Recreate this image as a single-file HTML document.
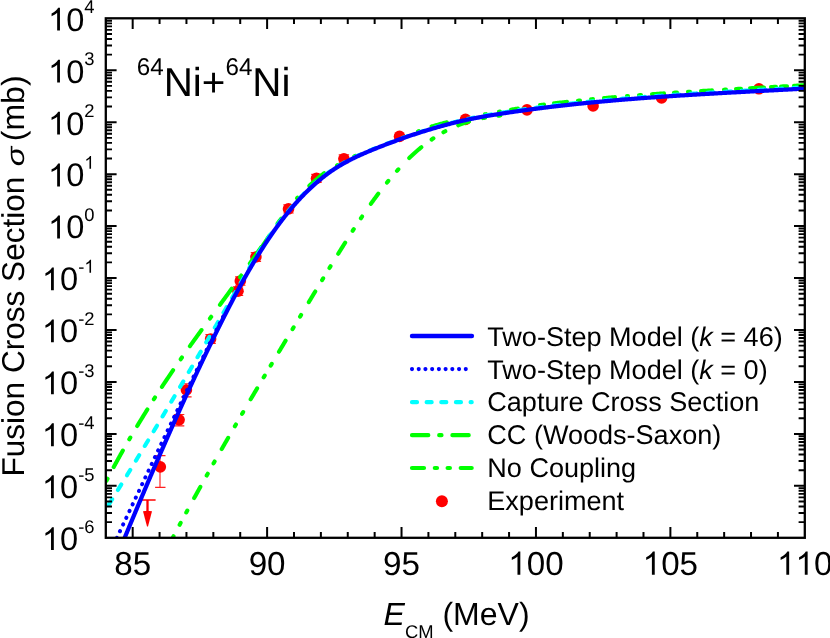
<!DOCTYPE html>
<html lang="en">
<head>
<meta charset="utf-8">
<title>64Ni+64Ni fusion cross section</title>
<style>
html,body{margin:0;padding:0;background:#ffffff;}
body{width:830px;height:638px;overflow:hidden;font-family:"Liberation Sans", sans-serif;}
svg{will-change:transform;}
svg text{font-family:"Liberation Sans", sans-serif;text-rendering:geometricPrecision;}
</style>
</head>
<body>
<svg width="830" height="638" viewBox="0 0 830 638" style="display:block">
<rect x="0" y="0" width="830" height="638" fill="#ffffff"/>
<defs><clipPath id="plot"><rect x="105.8" y="18.3" width="699.00" height="519.50"/></clipPath></defs>
<g clip-path="url(#plot)" fill="none" stroke-linecap="round" stroke-linejoin="round">
<g stroke="#ff2020" stroke-width="1.15" stroke-linecap="butt">
<path d="M160.0,455.6 V487.3 M155.1,455.6 h10.4 M155.1,487.3 h10.4"/>
<path d="M179.0,414.5 V425.8 M173.9,414.5 h10.4 M173.9,425.8 h10.4"/>
<path d="M186.0,383.7 V396.9 M181.2,383.7 h10.4 M181.2,396.9 h10.4"/>
<path d="M211.0,334.6 V343.4 M205.4,334.6 h10.4 M205.4,343.4 h10.4"/>
<path d="M238.0,286.9 V295.5 M232.8,286.9 h10.4 M232.8,295.5 h10.4"/>
<path d="M240.0,276.8 V285.2 M235.1,276.8 h10.4 M235.1,285.2 h10.4"/>
<path d="M256.0,252.6 V261.4 M250.7,252.6 h10.4 M250.7,261.4 h10.4"/>
<path d="M288.0,204.8 V213.0 M283.3,204.8 h10.4 M283.3,213.0 h10.4"/>
<path d="M316.0,174.4 V182.4 M311.3,174.4 h10.4 M311.3,182.4 h10.4"/>
<path d="M344.0,154.9 V162.7 M338.7,154.9 h10.4 M338.7,162.7 h10.4"/>
</g>
<g fill="#ff0000" stroke="none">
<circle cx="160.3" cy="466.9" r="5.8"/>
<circle cx="179.1" cy="419.8" r="5.8"/>
<circle cx="186.4" cy="390.0" r="5.8"/>
<circle cx="210.6" cy="339.0" r="5.8"/>
<circle cx="238.0" cy="291.2" r="5.8"/>
<circle cx="240.3" cy="281.0" r="5.8"/>
<circle cx="255.9" cy="257.0" r="5.8"/>
<circle cx="288.5" cy="208.9" r="5.8"/>
<circle cx="316.5" cy="178.4" r="5.8"/>
<circle cx="343.9" cy="158.8" r="5.8"/>
<circle cx="399.5" cy="136.4" r="5.8"/>
<circle cx="465.5" cy="119.4" r="5.8"/>
<circle cx="527.0" cy="109.9" r="5.8"/>
<circle cx="593.1" cy="106.0" r="5.8"/>
<circle cx="661.6" cy="98.0" r="5.8"/>
<circle cx="758.9" cy="88.8" r="5.8"/>
<path d="M139.4,499.2 h16.2 v1.5 h-16.2 z"/>
<path d="M146.35,500.0 h2.3 V513.5 h-2.3 z"/>
<path d="M143.0,511.3 q4.5,-1.2 9,0 L148.0,526.5 h-1 z"/>
</g>
<path d="M167.63,547.49 L167.92,546.91 L168.28,546.24 L168.63,545.57 L168.98,544.90 L169.33,544.23 L169.68,543.56 L170.03,542.89 L170.39,542.22 L170.74,541.55 L171.09,540.88 L171.44,540.21 L171.80,539.54 L172.15,538.87 L172.50,538.21 L172.85,537.54 L173.21,536.87 L173.54,536.25 M179.66,524.76 L179.95,524.21 L180.31,523.55 L180.65,522.91 M186.29,512.46 L186.39,512.28 L186.75,511.62 L187.11,510.95 L187.30,510.61 M194.20,497.99 L194.32,497.77 L194.69,497.11 L195.05,496.45 L195.41,495.79 L195.77,495.14 L196.14,494.48 L196.50,493.82 L196.86,493.17 L197.23,492.51 L197.59,491.85 L197.95,491.20 L198.32,490.54 L198.68,489.88 L199.04,489.23 L199.41,488.57 L199.77,487.92 L200.14,487.26 L200.35,486.87 M206.70,475.52 L206.72,475.48 L207.08,474.83 L207.45,474.18 L207.73,473.69 M213.57,463.34 L213.71,463.09 L214.08,462.44 L214.45,461.79 L214.61,461.51 M221.74,449.01 L221.86,448.80 L222.23,448.15 L222.60,447.50 L222.97,446.85 L223.34,446.21 L223.72,445.56 L224.09,444.91 L224.46,444.26 L224.83,443.61 L225.21,442.97 L225.58,442.32 L225.95,441.67 L226.33,441.02 L226.70,440.38 L227.07,439.73 L227.45,439.08 L227.82,438.43 L228.17,437.83 M234.87,426.27 L234.93,426.15 L235.31,425.51 L235.69,424.86 L235.92,424.46 M242.12,413.85 L242.46,413.25 L242.84,412.61 L243.18,412.03 M250.67,399.29 L250.79,399.08 L251.17,398.44 L251.55,397.80 L251.93,397.15 L252.31,396.51 L252.69,395.87 L253.07,395.22 L253.45,394.58 L253.83,393.94 L254.21,393.29 L254.59,392.65 L254.97,392.01 L255.35,391.36 L255.73,390.72 L256.11,390.08 L256.49,389.43 L256.88,388.79 L257.13,388.36 M263.64,377.39 L263.75,377.22 L264.13,376.58 L264.51,375.94 L264.72,375.59 M270.65,365.64 L271.02,365.01 L271.41,364.37 L271.73,363.84 M278.97,351.73 L279.10,351.52 L279.49,350.87 L279.87,350.23 L280.26,349.59 L280.64,348.95 L281.03,348.30 L281.41,347.66 L281.80,347.02 L282.18,346.37 L282.57,345.73 L282.96,345.09 L283.34,344.45 L283.73,343.80 L284.11,343.16 L284.50,342.52 L284.89,341.87 L285.27,341.23 L285.61,340.67 M292.55,329.13 L292.62,329.00 L293.01,328.36 L293.40,327.72 L293.63,327.33 M300.03,316.70 L300.38,316.12 L300.77,315.47 L301.11,314.90 M308.80,302.14 L308.93,301.91 L309.32,301.27 L309.71,300.62 L310.10,299.98 L310.49,299.33 L310.88,298.68 L311.27,298.04 L311.66,297.39 L312.05,296.74 L312.44,296.10 L312.83,295.45 L313.22,294.80 L313.61,294.16 L314.00,293.51 L314.39,292.86 L314.78,292.21 L315.17,291.57 L315.25,291.43 M322.08,280.13 L322.20,279.93 L322.59,279.28 L322.98,278.64 L323.17,278.34 M329.46,268.00 L329.66,267.67 L330.05,267.03 L330.44,266.39 L330.55,266.21 M338.21,253.77 L338.34,253.56 L338.74,252.92 L339.14,252.28 L339.53,251.64 L339.93,251.00 L340.33,250.37 L340.72,249.73 L341.12,249.09 L341.52,248.45 L341.92,247.82 L342.31,247.18 L342.71,246.54 L343.11,245.91 L343.51,245.27 L343.91,244.64 L344.30,244.00 L344.70,243.37 L345.10,242.73 L345.15,242.66 M352.64,230.87 L352.72,230.75 L353.12,230.12 L353.53,229.49 L353.78,229.11 M360.91,218.25 L361.30,217.67 L361.72,217.06 L362.08,216.51 M370.88,203.80 L371.02,203.61 L371.45,203.01 L371.89,202.40 L372.32,201.80 L372.76,201.20 L373.19,200.59 L373.63,199.99 L374.07,199.39 L374.51,198.79 L374.95,198.19 L375.39,197.59 L375.83,196.99 L376.27,196.40 L376.72,195.80 L377.16,195.20 L377.61,194.61 L378.06,194.01 L378.27,193.72 M387.01,182.55 L387.25,182.25 L387.73,181.67 L388.20,181.09 L388.34,180.92 M396.95,170.86 L396.98,170.83 L397.48,170.27 L397.99,169.71 L398.36,169.30 M409.27,158.01 L409.45,157.84 L409.99,157.32 L410.53,156.80 L411.07,156.29 L411.62,155.78 L412.16,155.27 L412.71,154.76 L413.26,154.25 L413.81,153.75 L414.36,153.25 L414.92,152.75 L415.48,152.25 L416.03,151.76 L416.59,151.27 L417.16,150.78 L417.72,150.29 L418.29,149.80 L418.85,149.32 L419.42,148.84 L419.99,148.37 L420.56,147.89 L421.14,147.42 L421.36,147.24 M431.67,139.50 L431.79,139.41 L432.40,138.99 L433.02,138.58 L433.41,138.32 M443.44,132.23 L443.72,132.07 L444.37,131.72 L445.02,131.37 L445.29,131.23 M458.25,125.31 L458.47,125.22 L459.17,124.95 L459.86,124.69 L460.56,124.42 L461.26,124.17 L461.97,123.91 L462.67,123.66 L463.38,123.41 L464.09,123.17 L464.80,122.93 L465.52,122.69 L466.23,122.45 L466.95,122.22 L467.67,122.00 L468.40,121.77 L469.02,121.59 M482.94,118.10 L483.33,118.02 L484.10,117.87 L484.88,117.72 L485.00,117.70 M498.30,115.69 L498.36,115.68 L499.18,115.59 L499.99,115.50 L500.38,115.46" stroke="#00ff00" stroke-width="4.1"/>
<path d="M106.56,480.58 L106.71,480.28 L107.06,479.61 L107.41,478.94 L107.53,478.71 M113.70,467.10 L113.81,466.91 L114.16,466.25 L114.52,465.59 L114.88,464.92 L115.25,464.26 L115.61,463.60 L115.97,462.94 L116.33,462.28 L116.69,461.62 L117.06,460.96 L117.42,460.30 L117.78,459.64 L118.15,458.98 L118.51,458.32 L118.88,457.66 L119.24,457.00 L119.61,456.34 L119.98,455.69 L120.34,455.03 L120.71,454.37 L121.08,453.72 L121.44,453.06 L121.81,452.41 L122.18,451.75 L122.55,451.10 L122.85,450.57 M129.28,439.36 L129.65,438.74 L130.03,438.09 L130.34,437.55 M137.19,426.03 L137.29,425.86 L137.68,425.22 L138.06,424.58 L138.45,423.94 L138.84,423.30 L139.22,422.66 L139.61,422.03 L140.00,421.39 L140.39,420.75 L140.78,420.11 L141.17,419.48 L141.56,418.84 L141.95,418.20 L142.34,417.57 L142.73,416.93 L143.13,416.29 L143.52,415.66 L143.91,415.02 L144.31,414.39 L144.70,413.75 L145.09,413.12 L145.49,412.49 L145.88,411.85 L146.28,411.22 L146.67,410.59 L147.07,409.95 L147.35,409.50 M153.87,399.23 L154.27,398.61 L154.67,397.98 L155.01,397.46 M161.91,386.89 L162.01,386.73 L162.43,386.11 L162.84,385.48 L163.25,384.86 L163.66,384.24 L164.08,383.62 L164.49,382.99 L164.90,382.37 L165.32,381.75 L165.73,381.13 L166.15,380.51 L166.56,379.89 L166.98,379.27 L167.39,378.65 L167.81,378.03 L168.23,377.41 L168.65,376.79 L169.06,376.17 L169.48,375.55 L169.90,374.93 L170.32,374.31 L170.74,373.69 L171.16,373.07 L171.58,372.46 L172.00,371.84 L172.42,371.22 L172.84,370.60 L173.11,370.20 M180.69,359.22 L180.92,358.90 L181.35,358.28 L181.78,357.67 L181.90,357.50 M189.89,346.19 L190.01,346.03 L190.44,345.42 L190.88,344.80 L191.31,344.19 L191.75,343.58 L192.19,342.97 L192.63,342.36 L193.06,341.75 L193.50,341.14 L193.94,340.53 L194.38,339.92 L194.82,339.31 L195.26,338.70 L195.70,338.09 L196.13,337.48 L196.57,336.87 L197.01,336.26 L197.45,335.65 L197.89,335.04 L198.33,334.43 L198.78,333.82 L199.22,333.21 L199.66,332.60 L200.10,331.99 L200.54,331.38 L200.98,330.78 L201.42,330.17 L201.51,330.04 M209.93,318.49 L210.29,318.01 L210.73,317.40 L211.17,316.79 M219.94,304.82 L220.06,304.65 L220.51,304.04 L220.95,303.44 L221.40,302.83 L221.84,302.22 L222.28,301.62 L222.73,301.01 L223.17,300.41 L223.62,299.80 L224.06,299.19 L224.50,298.59 L224.95,297.98 L225.39,297.37 L225.84,296.77 L226.28,296.16 L226.72,295.55 L227.17,294.95 L227.61,294.34 L228.05,293.73 L228.49,293.13 L228.94,292.52 L229.38,291.91 L229.82,291.31 L230.26,290.70 L230.71,290.09 L231.15,289.49 L231.59,288.88 L231.68,288.75 M240.03,277.23 L240.39,276.73 L240.82,276.13 L241.26,275.53 M249.83,263.50 L249.94,263.35 L250.37,262.74 L250.80,262.13 L251.23,261.52 L251.66,260.91 L252.09,260.30 L252.52,259.69 L252.95,259.08 L253.38,258.47 L253.80,257.86 L254.23,257.25 L254.66,256.64 L255.08,256.03 L255.51,255.42 L255.94,254.81 L256.36,254.20 L256.79,253.59 L257.21,252.98 L257.63,252.37 L258.06,251.76 L258.48,251.14 L258.90,250.53 L259.32,249.92 L259.74,249.31 L260.17,248.70 L260.59,248.09 L261.01,247.47 L261.21,247.18" stroke="#00ff00" stroke-width="4.1"/>
<path d="M261.90,247.04 L262.32,246.40 L262.73,245.76 L263.14,245.12 L263.55,244.48 L263.97,243.85 L264.38,243.21 L264.80,242.57 L265.22,241.94 L265.64,241.30 L266.06,240.67 L266.48,240.03 L266.90,239.40 L267.33,238.76 L267.75,238.13 L268.18,237.50 L268.60,236.87 L269.03,236.23 L269.46,235.60 M277.52,223.53 L277.98,222.92 L278.43,222.31 L278.89,221.69 L279.35,221.08 L279.81,220.47 L280.27,219.86 L280.73,219.25 L281.19,218.65 M297.03,198.13 L297.54,197.57 M309.27,185.76 L309.82,185.25 L310.37,184.74 L310.93,184.23 L311.49,183.73 L312.05,183.22 L312.61,182.72 L313.17,182.22 L313.73,181.72 L314.30,181.23 L314.86,180.73 L315.43,180.24 L316.00,179.75 L316.58,179.27 L317.15,178.79 L317.73,178.30 L318.30,177.83 L318.88,177.35 L319.46,176.88 L320.05,176.41 L320.63,175.94 L321.22,175.47 L321.81,175.01 L322.40,174.55 L322.99,174.09 L323.58,173.63 L324.18,173.18 M336.96,165.47 L337.59,165.08 M354.04,156.49 L354.71,156.17 L355.39,155.85 M417.98,131.44 L418.70,131.21 M431.53,126.53 L432.25,126.32 L432.98,126.10 L433.71,125.89 L434.43,125.68 L435.16,125.47 L435.89,125.26 L436.61,125.06 L437.34,124.85 L438.07,124.64 L438.79,124.44 L439.52,124.23 L440.25,124.03 L440.98,123.83 L441.71,123.63 L442.43,123.43 L443.16,123.23 L443.89,123.03 L444.62,122.83 L445.35,122.63 L446.08,122.44 L446.81,122.24" stroke="#00ff00" stroke-width="4.1"/>
<path d="M485.00,114.35 L486.00,114.16 M499.00,111.73 L500.00,111.55 M511.00,109.66 L512.00,109.50 L513.00,109.33 L514.00,109.16 L515.00,109.00 L516.00,108.83 L517.00,108.67 L518.00,108.51 M540.00,105.11 L541.00,104.98 L542.00,104.85 L543.00,104.72 L544.00,104.60 M554.00,103.37 L555.00,103.25 L556.00,103.13 L557.00,103.01 L558.00,102.90 L559.00,102.78 L560.00,102.66 L561.00,102.55 L562.00,102.43 L563.00,102.32 L564.00,102.20 L565.00,102.09 L566.00,101.98 L567.00,101.87 M578.00,100.67 L579.00,100.56 L580.00,100.46 M591.00,99.34 L592.00,99.24 L593.00,99.14 M604.00,98.10 L605.00,98.01 L606.00,97.92 L607.00,97.83 L608.00,97.74 L609.00,97.66 L610.00,97.57 L611.00,97.48 L612.00,97.39 L613.00,97.30 L614.00,97.22 L615.00,97.13 M627.00,96.13 L628.00,96.05 M639.00,95.19 L640.00,95.11 L641.00,95.04 M652.00,94.22 L653.00,94.15 L654.00,94.08 L655.00,94.01 L656.00,93.94 L657.00,93.87 L658.00,93.80 L659.00,93.73 L660.00,93.66 L661.00,93.59 L662.00,93.52 L663.00,93.45 L664.00,93.38 M674.00,92.72 L675.00,92.65 L676.00,92.59 L677.00,92.52 M688.00,91.83 L689.00,91.76 L690.00,91.70 M701.00,91.04 L702.00,90.98 L703.00,90.92 L704.00,90.86 L705.00,90.80 L706.00,90.75 L707.00,90.69 L708.00,90.63 L709.00,90.57 L710.00,90.51 L711.00,90.46 L712.00,90.40 M724.00,89.71 L725.00,89.65 L726.00,89.60 M736.00,89.02 L737.00,88.97 L738.00,88.91 L739.00,88.85 L740.00,88.80 L741.00,88.74 M750.00,88.24 L751.00,88.18 L752.00,88.13 L753.00,88.07 L754.00,88.02 L755.00,87.96 L756.00,87.91 L757.00,87.85 L758.00,87.80 L759.00,87.74 L760.00,87.68 L761.00,87.63 L762.00,87.57 L763.00,87.52 L764.00,87.46 M771.00,87.08 L772.00,87.02 L773.00,86.97 L774.00,86.91 L775.00,86.86 L776.00,86.80 M781.00,86.53 L782.00,86.47 L783.00,86.42 L784.00,86.36 L785.00,86.30 L786.00,86.25 L787.00,86.19 M794.00,85.80 L795.00,85.75 L796.00,85.69 L797.00,85.63 L798.00,85.58 L799.00,85.52 L800.00,85.47 L801.00,85.41 L802.00,85.35 L803.00,85.30 L804.00,85.24 L805.00,85.18 L806.00,85.13 L807.00,85.07 L808.00,85.02 L809.00,84.96 L810.00,84.91" stroke="#00ff00" stroke-width="4.1"/>
<path d="M100.80,517.38 L101.19,516.74 L101.59,516.11 L101.99,515.47 L102.39,514.84 L102.79,514.20 L103.08,513.74 M108.81,504.58 L109.16,504.03 L109.56,503.39 L109.95,502.76 L110.35,502.12 L110.75,501.48 L111.14,500.85 L111.54,500.21 L111.94,499.57 L112.20,499.15 M117.89,489.98 L118.26,489.37 L118.66,488.74 L119.05,488.10 L119.45,487.46 L119.84,486.82 L120.24,486.18 L120.63,485.55 L121.02,484.91 L121.26,484.53 M126.91,475.33 L126.92,475.33 L127.31,474.69 L127.70,474.05 L128.10,473.41 L128.49,472.77 L128.88,472.13 L129.27,471.49 L129.66,470.85 L130.05,470.21 L130.26,469.88 M135.89,460.66 L135.92,460.61 L136.31,459.97 L136.70,459.33 L137.09,458.69 L137.47,458.05 L137.86,457.41 L138.25,456.76 L138.64,456.12 L139.03,455.48 L139.21,455.19 M144.81,445.95 L144.86,445.86 L145.25,445.22 L145.64,444.58 L146.03,443.94 L146.41,443.30 L146.80,442.65 L147.19,442.01 L147.58,441.37 L147.96,440.73 L148.12,440.47 M153.68,431.22 L153.76,431.09 L154.15,430.45 L154.54,429.80 L154.92,429.16 L155.31,428.52 L155.69,427.87 L156.08,427.23 L156.46,426.59 L156.85,425.94 L156.98,425.73 M162.52,416.46 L162.62,416.29 L163.01,415.65 L163.39,415.00 L163.77,414.36 L164.16,413.71 L164.54,413.07 L164.93,412.43 L165.31,411.78 L165.69,411.14 L165.80,410.97 M171.32,401.68 L171.44,401.47 L171.82,400.82 L172.21,400.18 L172.59,399.53 L172.97,398.89 L173.35,398.24 L173.74,397.60 L174.12,396.95 L174.50,396.31 L174.58,396.18 M180.08,386.88 L180.23,386.63 L180.61,385.98 L180.99,385.33 L181.37,384.69 L181.75,384.04 L182.13,383.40 L182.51,382.75 L182.89,382.10 L183.27,381.46 L183.33,381.37 M188.81,372.06 L188.98,371.76 L189.36,371.12 L189.74,370.47 L190.12,369.82 L190.50,369.18 L190.88,368.53 L191.26,367.88 L191.64,367.24 L192.02,366.59 L192.05,366.54 M197.51,357.22 L197.70,356.89 L198.08,356.24 L198.46,355.59 L198.84,354.94 L199.22,354.30 L199.60,353.65 L199.97,353.00 L200.35,352.36 L200.73,351.71 L200.74,351.70 M206.18,342.37 L206.40,341.99 L206.78,341.35 L207.16,340.70 L207.54,340.05 L207.91,339.40 L208.29,338.75 L208.67,338.11 L209.05,337.46 L209.40,336.84 M214.84,327.51 L215.08,327.09 L215.46,326.44 L215.84,325.79 L216.21,325.14 L216.59,324.49 L216.97,323.85 L217.34,323.20 L217.72,322.55 L218.05,321.97 M223.47,312.63 L223.74,312.17 L224.12,311.52 L224.49,310.87 L224.87,310.22 L225.25,309.58 L225.62,308.93 L226.00,308.28 L226.38,307.63 L226.68,307.10 M232.10,297.75 L232.39,297.25 L232.76,296.60 L233.14,295.95 L233.52,295.30 L233.89,294.65 L234.27,294.00 L234.64,293.35 L235.02,292.70 L235.30,292.21 M240.71,282.86 L241.03,282.31 L241.40,281.67 L241.78,281.02 L242.15,280.37 L242.53,279.72 L242.90,279.07 L243.28,278.42 L243.65,277.77 L243.91,277.32 M249.27,267.94 L250.14,266.40 L250.52,265.76 L250.91,265.11 L251.30,264.47 L251.68,263.82 L252.07,263.18 L252.46,262.53 L252.52,262.43 M258.20,253.24 L258.41,252.90 L258.82,252.26 L259.22,251.62 L259.63,250.98 L260.04,250.35 L260.45,249.71 L260.86,249.07 L261.27,248.43 L261.64,247.85 M267.60,238.84 L267.98,238.29 L268.41,237.66 L268.84,237.03 L269.27,236.40 L269.71,235.77 L270.14,235.15 L270.57,234.52 L271.01,233.89 L271.23,233.57 M277.55,224.81 L277.70,224.61 L278.15,224.00 L278.61,223.39 L279.07,222.78 L279.53,222.17 L279.99,221.56 L280.45,220.96 L280.91,220.35 L281.38,219.75 L281.41,219.71 M288.15,211.27 L288.50,210.84 L288.99,210.26 L289.48,209.68 L289.97,209.10 L290.46,208.52 L290.95,207.94 L291.44,207.36 L291.93,206.79 L292.28,206.39 M299.52,198.37 L300.04,197.83 L300.55,197.28 L301.07,196.73 L301.59,196.19 L302.11,195.65 L302.63,195.11 L303.15,194.57 L303.68,194.03 L303.95,193.75 M311.72,186.25 L311.74,186.23 L312.29,185.72 L312.84,185.22 L313.40,184.72 L313.95,184.23 L314.51,183.73 L315.07,183.24 L315.63,182.75 L316.19,182.27 L316.50,182.00 M324.89,175.20 L325.41,174.81 L326.00,174.36 L326.60,173.92 L327.19,173.48 L327.79,173.05 L328.38,172.61 L328.98,172.18 L329.59,171.76 L330.06,171.42 M339.10,165.52 L339.46,165.30 L340.09,164.92 L340.73,164.55 L341.36,164.18 L342.00,163.81 L342.64,163.44 L343.28,163.08 L343.93,162.72 L344.57,162.36 L344.64,162.32 M354.24,157.38 L354.43,157.29 L355.10,156.97 L355.77,156.65 L356.44,156.34 L357.11,156.02 L357.79,155.71 L358.46,155.40 L359.14,155.09 L359.81,154.79 L360.05,154.68 M369.97,150.42 L370.10,150.36 L370.79,150.08 L371.49,149.80 L372.18,149.51 L372.88,149.23 L373.57,148.95 L374.27,148.67 L374.97,148.39 L375.67,148.11 L375.90,148.02 M385.97,144.10 L386.21,144.01 L386.92,143.74 L387.63,143.47 L388.33,143.20 L389.04,142.93 L389.75,142.67 L390.46,142.40 L391.17,142.14 L391.88,141.87 L391.96,141.84 M402.11,138.16 L402.58,137.99 L403.30,137.74 L404.01,137.49 L404.73,137.24 L405.44,136.99 L406.16,136.74 L406.88,136.50 L407.60,136.25 L408.15,136.06 M418.41,132.67 L419.10,132.45 L419.82,132.22 L420.54,131.98 L421.26,131.75 L421.98,131.52 L422.70,131.29 L423.42,131.06 L424.14,130.83 L424.50,130.71 M434.82,127.54 L434.96,127.50 L435.68,127.29 L436.40,127.07 L437.13,126.86 L437.85,126.65 L438.58,126.44 L439.30,126.23 L440.02,126.02 L440.75,125.82 L440.97,125.75 M451.38,122.89 L451.63,122.82 L452.36,122.63 L453.09,122.44 L453.82,122.25 L454.54,122.06 L455.27,121.88 L456.00,121.69 L456.73,121.51 L457.46,121.33 L457.58,121.30 M468.10,118.87 L468.41,118.80 L469.14,118.65 L469.87,118.49 L470.60,118.34 L471.33,118.18 L472.07,118.03 L472.80,117.88 L473.53,117.73 L474.26,117.58 L474.37,117.56 M484.98,115.55 L485.26,115.50 L485.99,115.37 L486.73,115.23 L487.46,115.10 L488.20,114.97 L488.93,114.85 L489.67,114.72 L490.40,114.59 L491.14,114.46 L491.28,114.44 M501.94,112.67 L502.17,112.63 L502.91,112.51 L503.65,112.39 L504.38,112.27 L505.12,112.16 L505.86,112.04 L506.59,111.92 L507.33,111.81 L508.07,111.69 L508.26,111.66 M518.93,110.03 L519.14,110.00 L519.88,109.89 L520.62,109.79 L521.36,109.68 L522.10,109.58 L522.84,109.48 L523.58,109.37 L524.33,109.27 L525.07,109.17 L525.27,109.14 M535.98,107.70 L536.18,107.68 L536.93,107.58 L537.67,107.48 L538.41,107.39 L539.15,107.29 L539.90,107.20 L540.64,107.10 L541.38,107.01 L542.12,106.92 L542.32,106.89 M553.04,105.58 L553.27,105.55 L554.02,105.46 L554.76,105.37 L555.51,105.29 L556.25,105.20 L556.99,105.11 L557.74,105.02 L558.48,104.94 L559.23,104.85 L559.40,104.83 M570.13,103.63 L570.40,103.60 L571.15,103.52 L571.89,103.44 L572.64,103.36 L573.39,103.28 L574.13,103.20 L574.88,103.12 L575.62,103.04 L576.37,102.96 L576.50,102.95 M587.24,101.84 L587.57,101.81 L588.32,101.74 L589.06,101.66 L589.81,101.59 L590.56,101.51 L591.30,101.44 L592.05,101.37 L592.80,101.30 L593.55,101.22 L593.61,101.22 M604.36,100.21 L604.77,100.17 L605.51,100.10 L606.26,100.04 L607.01,99.97 L607.76,99.90 L608.51,99.83 L609.26,99.77 L610.00,99.70 L610.74,99.63 M621.50,98.71 L621.99,98.67 L622.74,98.60 L623.49,98.54 L624.23,98.48 L624.98,98.42 L625.73,98.36 L626.48,98.29 L627.23,98.23 L627.87,98.18 M638.64,97.33 L639.23,97.28 L639.98,97.23 L640.73,97.17 L641.48,97.11 L642.23,97.05 L642.98,97.00 L643.73,96.94 L644.48,96.88 L645.02,96.84 M655.79,96.06 L656.48,96.01 L657.23,95.95 L657.98,95.90 L658.73,95.85 L659.48,95.79 L660.23,95.74 L660.98,95.69 L661.73,95.64 L662.18,95.61 M672.95,94.88 L672.99,94.87 L673.74,94.82 L674.49,94.77 L675.24,94.72 L676.00,94.68 L676.75,94.63 L677.50,94.58 L678.25,94.53 L679.00,94.48 L679.34,94.46 M690.12,93.77 L690.26,93.77 L691.01,93.72 L691.76,93.67 L692.51,93.63 L693.26,93.58 L694.01,93.53 L694.76,93.49 L695.51,93.44 L696.26,93.40 L696.51,93.38 M707.29,92.74 L707.52,92.72 L708.27,92.68 L709.02,92.64 L709.77,92.59 L710.52,92.55 L711.27,92.50 L712.02,92.46 L712.77,92.42 L713.52,92.37 L713.68,92.36 M724.46,91.75 L724.77,91.73 L725.52,91.69 L726.27,91.65 L727.02,91.61 L727.77,91.56 L728.52,91.52 L729.27,91.48 L730.02,91.44 L730.77,91.40 L730.85,91.39 M741.63,90.80 L742.01,90.78 L742.76,90.74 L743.51,90.70 L744.26,90.66 L745.00,90.62 L745.75,90.58 L746.50,90.54 L747.25,90.49 L748.00,90.45 L748.02,90.45 M758.81,89.87 L759.23,89.85 L759.97,89.81 L760.72,89.77 L761.47,89.73 L762.22,89.69 L762.97,89.65 L763.71,89.61 L764.46,89.57 L765.20,89.53 M775.98,88.95 L776.42,88.93 L777.17,88.89 L777.91,88.85 L778.66,88.81 L779.41,88.77 L780.15,88.73 L780.90,88.69 L781.65,88.65 L782.37,88.61 M793.16,88.03 L793.58,88.01 L794.32,87.97 L795.07,87.92 L795.82,87.88 L796.56,87.84 L797.31,87.80 L798.05,87.76 L798.80,87.72 L799.54,87.68 L799.55,87.68 M810.33,87.09 L810.70,87.07 L811.45,87.03 L812.19,86.99 L812.93,86.94 L813.68,86.90 L814.42,86.86" stroke="#00ffff" stroke-width="4.1"/>
<path d="M113.60,544.81 L113.60,544.81 L113.73,544.54 M116.76,538.08 L116.79,538.02 L116.89,537.81 M119.93,531.34 L119.98,531.23 L120.06,531.07 M123.09,524.61 L123.17,524.45 L123.22,524.34 M126.26,517.88 L126.36,517.66 L126.39,517.61 M129.43,511.15 L129.56,510.88 M132.60,504.42 L132.73,504.15 M135.77,497.69 L135.90,497.42 M138.95,490.96 L139.07,490.69 M142.12,484.23 L142.25,483.96 M145.30,477.50 L145.43,477.23 M148.48,470.78 L148.61,470.51 M151.67,464.06 L151.80,463.78 M154.86,457.33 L154.87,457.31 L154.99,457.06 M158.05,450.61 L158.09,450.53 L158.18,450.34 M161.25,443.89 L161.31,443.76 L161.38,443.62 M164.45,437.18 L164.54,436.99 L164.58,436.91 M167.65,430.46 L167.77,430.22 L167.78,430.19 M170.86,423.75 L170.99,423.48 M174.08,417.04 L174.21,416.77 M177.30,410.33 L177.43,410.06 M180.52,403.63 L180.65,403.36 M183.75,396.93 L183.88,396.66 M186.98,390.23 L187.12,389.96 M190.23,383.53 L190.36,383.26 M193.47,376.84 L193.60,376.57 M196.73,370.15 L196.75,370.10 L196.86,369.88 M199.99,363.46 L200.04,363.36 L200.12,363.19 M203.26,356.77 L203.33,356.62 L203.39,356.50 M206.53,350.09 L206.63,349.89 L206.66,349.82 M209.81,343.42 L209.94,343.16 L209.94,343.15 M213.10,336.74 L213.23,336.47 M216.40,330.07 L216.53,329.81 M219.70,323.41 L219.84,323.14 M223.02,316.75 L223.15,316.48" stroke="#0000ff" stroke-width="3.9"/>
<path d="M117.59,554.89 L117.88,554.20 L118.16,553.51 L118.44,552.83 L118.73,552.14 L119.01,551.45 L119.30,550.76 L119.58,550.07 L119.86,549.38 L120.15,548.69 L120.43,548.01 L120.72,547.32 L121.00,546.63 L121.29,545.94 L121.57,545.25 L121.86,544.56 L122.14,543.87 L122.42,543.18 L122.71,542.49 L123.00,541.80 L123.28,541.11 L123.57,540.42 L123.85,539.73 L124.14,539.04 L124.42,538.36 L124.71,537.67 L124.99,536.98 L125.28,536.29 L125.57,535.60 L125.85,534.91 L126.14,534.22 L126.42,533.53 L126.71,532.84 L127.00,532.15 L127.28,531.46 L127.57,530.77 L127.86,530.08 L128.14,529.39 L128.43,528.70 L128.72,528.01 L129.00,527.32 L129.29,526.63 L129.58,525.94 L129.87,525.25 L130.15,524.56 L130.44,523.87 L130.73,523.18 L131.02,522.49 L131.31,521.79 L131.59,521.10 L131.88,520.41 L132.17,519.72 L132.46,519.03 L132.75,518.34 L133.04,517.65 L133.32,516.96 L133.61,516.27 L133.90,515.58 L134.19,514.89 L134.48,514.20 L134.77,513.51 L135.06,512.82 L135.35,512.13 L135.64,511.44 L135.93,510.75 L136.22,510.06 L136.51,509.36 L136.80,508.67 L137.09,507.98 L137.38,507.29 L137.67,506.60 L137.96,505.91 L138.25,505.22 L138.54,504.53 L138.83,503.84 L139.12,503.15 L139.41,502.46 L139.70,501.77 L139.99,501.08 L140.29,500.39 L140.58,499.69 L140.87,499.00 L141.16,498.31 L141.45,497.62 L141.74,496.93 L142.04,496.24 L142.33,495.55 L142.62,494.86 L142.91,494.17 L143.20,493.48 L143.50,492.79 L143.79,492.10 L144.08,491.40 L144.38,490.71 L144.67,490.02 L144.96,489.33 L145.26,488.64 L145.55,487.95 L145.84,487.26 L146.14,486.57 L146.43,485.88 L146.72,485.19 L147.02,484.50 L147.31,483.81 L147.61,483.12 L147.90,482.43 L148.20,481.74 L148.49,481.04 L148.78,480.35 L149.08,479.66 L149.37,478.97 L149.67,478.28 L149.96,477.59 L150.26,476.90 L150.56,476.21 L150.85,475.52 L151.15,474.83 L151.44,474.14 L151.74,473.45 L152.04,472.76 L152.33,472.07 L152.63,471.38 L152.92,470.69 L153.22,470.00 L153.52,469.31 L153.82,468.62 L154.11,467.93 L154.41,467.24 L154.71,466.55 L155.00,465.86 L155.30,465.17 L155.60,464.48 L155.90,463.79 L156.20,463.10 L156.49,462.41 L156.79,461.72 L157.09,461.03 L157.39,460.34 L157.69,459.65 L157.99,458.96 L158.29,458.27 L158.58,457.58 L158.88,456.89 L159.18,456.20 L159.48,455.51 L159.78,454.82 L160.08,454.13 L160.38,453.44 L160.68,452.76 L160.98,452.07 L161.28,451.38 L161.58,450.69 L161.88,450.00 L162.18,449.31 L162.49,448.62 L162.79,447.93 L163.09,447.24 L163.39,446.55 L163.69,445.87 L163.99,445.18 L164.29,444.49 L164.60,443.80 L164.90,443.11 L165.20,442.42 L165.50,441.73 L165.81,441.05 L166.11,440.36 L166.41,439.67 L166.71,438.98 L167.02,438.29 L167.32,437.60 L167.62,436.92 L167.93,436.23 L168.23,435.54 L168.53,434.85 L168.84,434.17 L169.14,433.48 L169.45,432.79 L169.75,432.10 L170.06,431.42 L170.36,430.73 L170.67,430.04 L170.97,429.35 L171.28,428.67 L171.58,427.98 L171.89,427.29 L172.19,426.61 L172.50,425.92 L172.80,425.23 L173.11,424.55 L173.42,423.86 L173.72,423.17 L174.03,422.49 L174.34,421.80 L174.64,421.11 L174.95,420.43 L175.26,419.74 L175.56,419.05 L175.87,418.37 L176.18,417.68 L176.49,417.00 L176.80,416.31 L177.10,415.63 L177.41,414.94 L177.72,414.25 L178.03,413.57 L178.34,412.88 L178.65,412.20 L178.96,411.51 L179.27,410.83 L179.57,410.14 L179.88,409.46 L180.19,408.77 L180.50,408.09 L180.81,407.40 L181.12,406.72 L181.43,406.04 L181.75,405.35 L182.06,404.67 L182.37,403.98 L182.68,403.30 L182.99,402.61 L183.30,401.93 L183.61,401.25 L183.92,400.56 L184.24,399.88 L184.55,399.20 L184.86,398.51 L185.17,397.83 L185.49,397.15 L185.80,396.46 L186.11,395.78 L186.42,395.10 L186.74,394.42 L187.05,393.73 L187.36,393.05 L187.68,392.37 L187.99,391.69 L188.31,391.00 L188.62,390.32 L188.94,389.64 L189.25,388.96 L189.57,388.28 L189.88,387.60 L190.20,386.91 L190.51,386.23 L190.83,385.55 L191.14,384.87 L191.46,384.19 L191.77,383.51 L192.09,382.83 L192.41,382.15 L192.72,381.47 L193.04,380.79 L193.36,380.11 L193.67,379.43 L193.99,378.75 L194.31,378.07 L194.63,377.39 L194.94,376.71 L195.26,376.03 L195.58,375.35 L195.90,374.67 L196.22,373.99 L196.54,373.31 L196.86,372.63 L197.18,371.95 L197.49,371.28 L197.81,370.60 L198.13,369.92 L198.45,369.24 L198.77,368.56 L199.09,367.88 L199.41,367.21 L199.73,366.53 L200.06,365.85 L200.38,365.17 L200.70,364.50 L201.02,363.82 L201.34,363.14 L201.66,362.47 L201.98,361.79 L202.31,361.11 L202.63,360.44 L202.95,359.76 L203.27,359.09 L203.60,358.41 L203.92,357.73 L204.24,357.06 L204.57,356.38 L204.89,355.71 L205.21,355.03 L205.54,354.36 L205.86,353.68 L206.19,353.01 L206.51,352.33 L206.84,351.66 L207.16,350.98 L207.49,350.31 L207.81,349.64 L208.14,348.96 L208.46,348.29 L208.79,347.62 L209.12,346.94 L209.44,346.27 L209.77,345.60 L210.10,344.92 L210.42,344.25 L210.75,343.58 L211.08,342.91 L211.41,342.23 L211.73,341.56 L212.06,340.89 L212.39,340.22 L212.72,339.55 L213.05,338.87 L213.37,338.20 L213.70,337.53 L214.03,336.86 L214.36,336.19 L214.69,335.52 L215.02,334.85 L215.35,334.18 L215.68,333.51 L216.01,332.84 L216.34,332.17 L216.67,331.50 L217.01,330.83 L217.34,330.16 L217.67,329.49 L218.00,328.82 L218.33,328.16 L218.66,327.49 L219.00,326.82 L219.33,326.15 L219.66,325.48 L219.99,324.82 L220.33,324.15 L220.66,323.48 L220.99,322.81 L221.33,322.15 L221.66,321.48 L222.00,320.81 L222.33,320.15 L222.67,319.48 L223.00,318.82 L223.34,318.15 L223.67,317.48 L224.01,316.82 L224.35,316.15 L224.68,315.49 L225.02,314.82 L225.36,314.16 L225.70,313.49 L226.03,312.83 L226.37,312.17 L226.71,311.50 L227.05,310.84 L227.39,310.18 L227.73,309.51 L228.07,308.85 L228.41,308.19 L228.75,307.52 L229.10,306.86 L229.44,306.20 L229.78,305.54 L230.12,304.88 L230.47,304.21 L230.81,303.55 L231.16,302.89 L231.50,302.23 L231.85,301.57 L232.19,300.91 L232.54,300.25 L232.88,299.59 L233.23,298.93 L233.58,298.27 L233.93,297.61 L234.28,296.95 L234.63,296.29 L234.98,295.64 L235.33,294.98 L235.68,294.32 L236.03,293.66 L236.38,293.00 L236.73,292.35 L237.09,291.69 L237.44,291.03 L237.79,290.38 L238.15,289.72 L238.50,289.06 L238.86,288.41 L239.22,287.75 L239.58,287.10 L239.93,286.44 L240.29,285.79 L240.65,285.13 L241.01,284.48 L241.37,283.82 L241.73,283.17 L242.10,282.52 L242.46,281.86 L242.82,281.21 L243.19,280.56 L243.55,279.90 L243.92,279.25 L244.28,278.60 L244.65,277.95 L245.02,277.30 L245.38,276.65 L245.75,275.99 L246.12,275.34 L246.49,274.69 L246.86,274.04 L247.24,273.39 L247.61,272.74 L247.98,272.09 L248.36,271.44 L248.73,270.80 L249.11,270.15 L249.49,269.50 L249.86,268.85 L250.24,268.20 L250.62,267.56 L251.00,266.91 L251.38,266.26 L251.76,265.62 L252.15,264.97 L252.53,264.32 L252.92,263.68 L253.30,263.03 L253.69,262.39 L254.07,261.74 L254.46,261.10 L254.85,260.45 L255.24,259.81 L255.63,259.17 L256.02,258.52 L256.42,257.88 L256.81,257.24 L257.20,256.59 L257.60,255.95 L258.00,255.31 L258.39,254.67 L258.79,254.03 L259.19,253.39 L259.59,252.75 L259.99,252.11 L260.40,251.47 L260.80,250.83 L261.20,250.19 L261.61,249.55 L262.01,248.91 L262.42,248.27 L262.83,247.63 L263.24,246.99 L263.65,246.36 L264.06,245.72 L264.48,245.08 L264.89,244.45 L265.30,243.81 L265.72,243.18 L266.14,242.54 L266.56,241.91 L266.97,241.27 L267.39,240.64 L267.82,240.01 L268.24,239.38 L268.66,238.74 L269.09,238.11 L269.51,237.48 L269.94,236.85 L270.37,236.22 L270.80,235.60 L271.23,234.97 L271.66,234.34 L272.09,233.72 L272.53,233.09 L272.96,232.47 L273.40,231.84 L273.84,231.22 L274.28,230.60 L274.72,229.98 L275.16,229.35 L275.60,228.73 L276.04,228.12 L276.49,227.50 L276.93,226.88 L277.38,226.27 L277.83,225.65 L278.28,225.04 L278.73,224.42 L279.18,223.81 L279.64,223.20 L280.09,222.59 L280.55,221.98 L281.00,221.37 L281.46,220.77 L281.92,220.16 L282.38,219.56 L282.85,218.96 L283.31,218.35 L283.77,217.75 L284.24,217.15 L284.71,216.55 L285.18,215.96 L285.65,215.36 L286.12,214.77 L286.59,214.17 L287.07,213.58 L287.54,212.99 L288.02,212.40 L288.50,211.81 L288.98,211.23 L289.46,210.64 L289.94,210.06 L290.42,209.48 L290.91,208.90 L291.40,208.32 L291.88,207.74 L292.37,207.16 L292.87,206.59 L293.36,206.02 L293.85,205.45 L294.35,204.88 L294.84,204.31 L295.34,203.74 L295.84,203.18 L296.34,202.61 L296.84,202.05 L297.35,201.49 L297.85,200.93 L298.36,200.38 L298.87,199.82 L299.38,199.27 L299.89,198.72 L300.40,198.17 L300.92,197.62 L301.43,197.08 L301.95,196.53 L302.47,195.99 L302.99,195.45 L303.51,194.91 L304.03,194.38 L304.56,193.84 L305.08,193.31 L305.61,192.78 L306.14,192.25 L306.67,191.73 L307.20,191.20 L307.74,190.68 L308.27,190.16 L308.81,189.64 L309.35,189.13 L309.89,188.61 L310.43,188.10 L310.98,187.59 L311.52,187.09 L312.07,186.58 L312.62,186.08 L313.17,185.58 L313.72,185.08 L314.27,184.58 L314.83,184.09 L315.38,183.60 L315.94,183.11 L316.50,182.62 L317.06,182.14 L317.63,181.66 L318.19,181.18 L318.76,180.70 L319.33,180.23 L319.89,179.75 L320.47,179.28 L321.04,178.82 L321.61,178.35 L322.19,177.89 L322.77,177.43 L323.35,176.97 L323.93,176.52 L324.52,176.07 L325.10,175.62 L325.69,175.17 L326.28,174.73 L326.87,174.29 L327.46,173.85 L328.05,173.41 L328.65,172.98 L329.25,172.55 L329.85,172.12 L330.45,171.70 L331.05,171.28 L331.66,170.86 L332.26,170.44 L332.87,170.03 L333.48,169.62 L334.09,169.21 L334.71,168.80 L335.32,168.40 L335.94,168.00 L336.56,167.61 L337.18,167.22 L337.80,166.83 L338.43,166.44 L339.06,166.05 L339.68,165.67 L340.31,165.30 L340.95,164.92 L341.58,164.55 L342.22,164.18 L342.85,163.81 L343.49,163.45 L344.13,163.09 L344.78,162.73 L345.42,162.38 L346.07,162.02 L346.72,161.67 L347.37,161.33 L348.02,160.98 L348.67,160.64 L349.32,160.30 L349.98,159.96 L350.64,159.63 L351.29,159.29 L351.95,158.96 L352.62,158.63 L353.28,158.31 L353.94,157.98 L354.61,157.66 L355.27,157.34 L355.94,157.02 L356.61,156.70 L357.28,156.39 L357.96,156.08 L358.63,155.77 L359.30,155.46 L359.98,155.15 L360.66,154.84 L361.33,154.54 L362.01,154.24 L362.69,153.94 L363.38,153.64 L364.06,153.34 L364.74,153.04 L365.43,152.75 L366.11,152.45 L366.80,152.16 L367.49,151.87 L368.17,151.58 L368.86,151.29 L369.55,151.00 L370.25,150.72 L370.94,150.43 L371.63,150.15 L372.32,149.86 L373.02,149.58 L373.71,149.30 L374.41,149.02 L375.11,148.74 L375.80,148.46 L376.50,148.18 L377.20,147.90 L377.90,147.63 L378.60,147.35 L379.30,147.07 L380.00,146.80 L380.70,146.52 L381.41,146.25 L382.11,145.97 L382.81,145.70 L383.52,145.43 L384.22,145.15 L384.93,144.88 L385.63,144.61 L386.34,144.34 L387.04,144.07 L387.75,143.80 L388.46,143.53 L389.17,143.26 L389.87,142.99 L390.58,142.73 L391.29,142.46 L392.00,142.20 L392.71,141.93 L393.42,141.67 L394.13,141.40 L394.84,141.14 L395.56,140.88 L396.27,140.62 L396.98,140.36 L397.69,140.10 L398.41,139.84 L399.12,139.58 L399.83,139.32 L400.55,139.07 L401.26,138.81 L401.98,138.56 L402.69,138.30 L403.40,138.05 L404.12,137.80 L404.84,137.55 L405.55,137.30 L406.27,137.05 L406.98,136.80 L407.70,136.55 L408.42,136.31 L409.13,136.06 L409.85,135.82 L410.57,135.57 L411.29,135.33 L412.00,135.09 L412.72,134.85 L413.44,134.61 L414.16,134.37 L414.88,134.14 L415.60,133.90 L416.31,133.67 L417.03,133.43 L417.75,133.20 L418.47,132.97 L419.19,132.73 L419.91,132.50 L420.63,132.27 L421.35,132.05 L422.07,131.82 L422.79,131.59 L423.51,131.37 L424.23,131.14 L424.96,130.92 L425.68,130.70 L426.40,130.47 L427.12,130.25 L427.84,130.03 L428.56,129.82 L429.29,129.60 L430.01,129.38 L430.73,129.17 L431.45,128.95 L432.18,128.74 L432.90,128.52 L433.62,128.31 L434.35,128.10 L435.07,127.89 L435.80,127.68 L436.52,127.47 L437.24,127.27 L437.97,127.06 L438.69,126.86 L439.42,126.65 L440.14,126.45 L440.87,126.24 L441.59,126.04 L442.32,125.84 L443.04,125.64 L443.77,125.44 L444.50,125.25 L445.22,125.05 L445.95,124.85 L446.67,124.66 L447.40,124.46 L448.13,124.27 L448.85,124.08 L449.58,123.89 L450.31,123.70 L451.04,123.51 L451.76,123.32 L452.49,123.14 L453.22,122.95 L453.95,122.77 L454.67,122.59 L455.40,122.41 L456.13,122.23 L456.86,122.05 L457.59,121.88 L458.32,121.70 L459.05,121.53 L459.78,121.36 L460.51,121.19 L461.24,121.02 L461.96,120.86 L462.69,120.69 L463.42,120.53 L464.15,120.37 L464.88,120.21 L465.62,120.05 L466.35,119.89 L467.08,119.74 L467.81,119.58 L468.54,119.43 L469.27,119.28 L470.00,119.13 L470.73,118.98 L471.46,118.83 L472.20,118.68 L472.93,118.54 L473.66,118.40 L474.39,118.25 L475.12,118.11 L475.86,117.97 L476.59,117.83 L477.32,117.69 L478.05,117.56 L478.79,117.42 L479.52,117.29 L480.25,117.15 L480.99,117.02 L481.72,116.89 L482.45,116.76 L483.19,116.63 L483.92,116.50 L484.66,116.37 L485.39,116.24 L486.12,116.12 L486.86,115.99 L487.59,115.87 L488.33,115.74 L489.06,115.62 L489.80,115.50 L490.53,115.37 L491.27,115.25 L492.00,115.13 L492.74,115.01 L493.47,114.89 L494.21,114.77 L494.94,114.65 L495.68,114.54 L496.42,114.42 L497.15,114.30 L497.89,114.19 L498.62,114.07 L499.36,113.95 L500.10,113.84 L500.83,113.72 L501.57,113.61 L502.31,113.50 L503.04,113.38 L503.78,113.27 L504.52,113.16 L505.26,113.04 L505.99,112.93 L506.73,112.82 L507.47,112.71 L508.21,112.60 L508.94,112.49 L509.68,112.38 L510.42,112.27 L511.16,112.16 L511.90,112.05 L512.63,111.94 L513.37,111.83 L514.11,111.73 L514.85,111.62 L515.59,111.51 L516.33,111.41 L517.07,111.30 L517.81,111.20 L518.54,111.09 L519.28,110.99 L520.02,110.88 L520.76,110.78 L521.50,110.67 L522.24,110.57 L522.98,110.47 L523.72,110.37 L524.46,110.26 L525.20,110.16 L525.94,110.06 L526.68,109.96 L527.42,109.86 L528.16,109.76 L528.90,109.66 L529.64,109.56 L530.39,109.46 L531.13,109.36 L531.87,109.26 L532.61,109.16 L533.35,109.07 L534.09,108.97 L534.83,108.87 L535.57,108.78 L536.31,108.68 L537.06,108.58 L537.80,108.49 L538.54,108.39 L539.28,108.30 L540.02,108.20 L540.77,108.11 L541.51,108.02 L542.25,107.92 L542.99,107.83 L543.73,107.74 L544.48,107.65 L545.22,107.55 L545.96,107.46 L546.71,107.37 L547.45,107.28 L548.19,107.19 L548.93,107.10 L549.68,107.01 L550.42,106.92 L551.16,106.83 L551.91,106.74 L552.65,106.65 L553.39,106.57 L554.14,106.48 L554.88,106.39 L555.62,106.30 L556.37,106.22 L557.11,106.13 L557.86,106.04 L558.60,105.96 L559.34,105.87 L560.09,105.79 L560.83,105.70 L561.58,105.62 L562.32,105.53 L563.07,105.45 L563.81,105.37 L564.55,105.28 L565.30,105.20 L566.04,105.12 L566.79,105.03 L567.53,104.95 L568.28,104.87 L569.02,104.79 L569.77,104.71 L570.51,104.63 L571.26,104.55 L572.00,104.47 L572.75,104.39 L573.50,104.31 L574.24,104.23 L574.99,104.15 L575.73,104.07 L576.48,103.99 L577.22,103.91 L577.97,103.84 L578.72,103.76 L579.46,103.68 L580.21,103.61 L580.95,103.53 L581.70,103.45 L582.45,103.38 L583.19,103.30 L583.94,103.23 L584.69,103.15 L585.43,103.08 L586.18,103.00 L586.93,102.93 L587.67,102.85 L588.42,102.78 L589.17,102.71 L589.91,102.63 L590.66,102.56 L591.41,102.49 L592.15,102.41 L592.90,102.34 L593.65,102.27 L594.39,102.20 L595.14,102.13 L595.89,102.06 L596.64,101.99 L597.38,101.92 L598.13,101.85 L598.88,101.78 L599.63,101.71 L600.37,101.64 L601.12,101.57 L601.87,101.50 L602.62,101.43 L603.37,101.36 L604.11,101.29 L604.86,101.23 L605.61,101.16 L606.36,101.09 L607.10,101.02 L607.85,100.96 L608.60,100.89 L609.35,100.82 L610.10,100.76 L610.85,100.69 L611.59,100.63 L612.34,100.56 L613.09,100.50 L613.84,100.43 L614.59,100.37 L615.34,100.30 L616.09,100.24 L616.83,100.18 L617.58,100.11 L618.33,100.05 L619.08,99.99 L619.83,99.92 L620.58,99.86 L621.33,99.80 L622.08,99.73 L622.82,99.67 L623.57,99.61 L624.32,99.55 L625.07,99.49 L625.82,99.43 L626.57,99.37 L627.32,99.31 L628.07,99.25 L628.82,99.18 L629.57,99.12 L630.32,99.07 L631.07,99.01 L631.81,98.95 L632.56,98.89 L633.31,98.83 L634.06,98.77 L634.81,98.71 L635.56,98.65 L636.31,98.59 L637.06,98.54 L637.81,98.48 L638.56,98.42 L639.31,98.36 L640.06,98.31 L640.81,98.25 L641.56,98.19 L642.31,98.14 L643.06,98.08 L643.81,98.02 L644.56,97.97 L645.31,97.91 L646.06,97.86 L646.81,97.80 L647.56,97.75 L648.31,97.69 L649.06,97.64 L649.81,97.58 L650.56,97.53 L651.31,97.47 L652.06,97.42 L652.81,97.37 L653.56,97.31 L654.31,97.26 L655.06,97.21 L655.81,97.15 L656.56,97.10 L657.31,97.05 L658.06,96.99 L658.81,96.94 L659.56,96.89 L660.31,96.84 L661.06,96.79 L661.81,96.73 L662.56,96.68 L663.31,96.63 L664.06,96.58 L664.81,96.53 L665.56,96.48 L666.31,96.43 L667.06,96.38 L667.81,96.33 L668.56,96.28 L669.31,96.23 L670.06,96.18 L670.81,96.13 L671.56,96.08 L672.31,96.03 L673.07,95.98 L673.82,95.93 L674.57,95.88 L675.32,95.83 L676.07,95.78 L676.82,95.73 L677.57,95.69 L678.32,95.64 L679.07,95.59 L679.82,95.54 L680.57,95.49 L681.32,95.45 L682.07,95.40 L682.82,95.35 L683.57,95.30 L684.32,95.26 L685.07,95.21 L685.82,95.16 L686.57,95.12 L687.32,95.07 L688.07,95.02 L688.82,94.98 L689.58,94.93 L690.33,94.88 L691.08,94.84 L691.83,94.79 L692.58,94.75 L693.33,94.70 L694.08,94.65 L694.83,94.61 L695.58,94.56 L696.33,94.52 L697.08,94.47 L697.83,94.43 L698.58,94.38 L699.33,94.34 L700.08,94.29 L700.83,94.25 L701.58,94.20 L702.33,94.16 L703.08,94.12 L703.83,94.07 L704.58,94.03 L705.33,93.98 L706.08,93.94 L706.83,93.90 L707.58,93.85 L708.33,93.81 L709.08,93.77 L709.83,93.72 L710.58,93.68 L711.33,93.64 L712.08,93.59 L712.83,93.55 L713.58,93.51 L714.33,93.46 L715.09,93.42 L715.84,93.38 L716.59,93.34 L717.34,93.29 L718.09,93.25 L718.84,93.21 L719.58,93.17 L720.33,93.13 L721.08,93.08 L721.83,93.04 L722.58,93.00 L723.33,92.96 L724.08,92.92 L724.83,92.87 L725.58,92.83 L726.33,92.79 L727.08,92.75 L727.83,92.71 L728.58,92.67 L729.33,92.63 L730.08,92.59 L730.83,92.54 L731.58,92.50 L732.33,92.46 L733.08,92.42 L733.83,92.38 L734.58,92.34 L735.33,92.30 L736.08,92.26 L736.83,92.22 L737.58,92.18 L738.32,92.14 L739.07,92.10 L739.82,92.05 L740.57,92.01 L741.32,91.97 L742.07,91.93 L742.82,91.89 L743.57,91.85 L744.32,91.81 L745.07,91.77 L745.82,91.73 L746.56,91.69 L747.31,91.65 L748.06,91.61 L748.81,91.57 L749.56,91.53 L750.31,91.49 L751.06,91.45 L751.80,91.41 L752.55,91.37 L753.30,91.33 L754.05,91.29 L754.80,91.25 L755.55,91.21 L756.30,91.17 L757.04,91.14 L757.79,91.10 L758.54,91.06 L759.29,91.02 L760.04,90.98 L760.78,90.94 L761.53,90.90 L762.28,90.86 L763.03,90.82 L763.78,90.78 L764.52,90.74 L765.27,90.70 L766.02,90.66 L766.77,90.62 L767.51,90.58 L768.26,90.54 L769.01,90.50 L769.76,90.46 L770.50,90.42 L771.25,90.38 L772.00,90.35 L772.75,90.31 L773.49,90.27 L774.24,90.23 L774.99,90.19 L775.73,90.15 L776.48,90.11 L777.23,90.07 L777.97,90.03 L778.72,89.99 L779.47,89.95 L780.21,89.91 L780.96,89.87 L781.71,89.83 L782.45,89.79 L783.20,89.75 L783.95,89.71 L784.69,89.67 L785.44,89.63 L786.19,89.59 L786.93,89.55 L787.68,89.51 L788.42,89.48 L789.17,89.44 L789.92,89.40 L790.66,89.36 L791.41,89.32 L792.15,89.28 L792.90,89.24 L793.64,89.20 L794.39,89.16 L795.13,89.12 L795.88,89.08 L796.62,89.04 L797.37,89.00 L798.11,88.96 L798.86,88.92 L799.60,88.88 L800.35,88.84 L801.09,88.79 L801.84,88.75 L802.58,88.71 L803.33,88.67 L804.07,88.63 L804.82,88.59 L805.56,88.55 L806.31,88.51 L807.05,88.47 L807.79,88.43 L808.54,88.39 L809.28,88.35 L810.03,88.31 L810.77,88.27 L811.51,88.22 L812.26,88.18 L813.00,88.14 L813.74,88.10 L814.49,88.06" stroke="#0000ff" stroke-width="4.25"/>
</g>
<g stroke="#000" fill="none" stroke-linecap="butt">
<rect x="105.8" y="18.3" width="699.00" height="519.50" stroke-width="2.3"/>
<path d="M132.68,537.8 v-10.8 M132.68,18.3 v10.8 M267.11,537.8 v-10.8 M267.11,18.3 v10.8 M401.53,537.8 v-10.8 M401.53,18.3 v10.8 M535.95,537.8 v-10.8 M535.95,18.3 v10.8 M670.38,537.8 v-10.8 M670.38,18.3 v10.8" stroke-width="2"/>
<path d="M159.57,537.8 v-5.8 M159.57,18.3 v5.8 M186.45,537.8 v-5.8 M186.45,18.3 v5.8 M213.34,537.8 v-5.8 M213.34,18.3 v5.8 M240.22,537.8 v-5.8 M240.22,18.3 v5.8 M293.99,537.8 v-5.8 M293.99,18.3 v5.8 M320.88,537.8 v-5.8 M320.88,18.3 v5.8 M347.76,537.8 v-5.8 M347.76,18.3 v5.8 M374.65,537.8 v-5.8 M374.65,18.3 v5.8 M428.42,537.8 v-5.8 M428.42,18.3 v5.8 M455.30,537.8 v-5.8 M455.30,18.3 v5.8 M482.18,537.8 v-5.8 M482.18,18.3 v5.8 M509.07,537.8 v-5.8 M509.07,18.3 v5.8 M562.84,537.8 v-5.8 M562.84,18.3 v5.8 M589.72,537.8 v-5.8 M589.72,18.3 v5.8 M616.61,537.8 v-5.8 M616.61,18.3 v5.8 M643.49,537.8 v-5.8 M643.49,18.3 v5.8 M697.26,537.8 v-5.8 M697.26,18.3 v5.8 M724.15,537.8 v-5.8 M724.15,18.3 v5.8 M751.03,537.8 v-5.8 M751.03,18.3 v5.8 M777.92,537.8 v-5.8 M777.92,18.3 v5.8" stroke-width="2"/>
<path d="M105.8,485.85 h10.8 M804.8,485.85 h-10.8 M105.8,433.90 h10.8 M804.8,433.90 h-10.8 M105.8,381.95 h10.8 M804.8,381.95 h-10.8 M105.8,330.00 h10.8 M804.8,330.00 h-10.8 M105.8,278.05 h10.8 M804.8,278.05 h-10.8 M105.8,226.10 h10.8 M804.8,226.10 h-10.8 M105.8,174.15 h10.8 M804.8,174.15 h-10.8 M105.8,122.20 h10.8 M804.8,122.20 h-10.8 M105.8,70.25 h10.8 M804.8,70.25 h-10.8" stroke-width="2"/>
<path d="M105.8,522.16 h6.2 M804.8,522.16 h-6.2 M105.8,513.01 h6.2 M804.8,513.01 h-6.2 M105.8,506.52 h6.2 M804.8,506.52 h-6.2 M105.8,501.49 h6.2 M804.8,501.49 h-6.2 M105.8,497.38 h6.2 M804.8,497.38 h-6.2 M105.8,493.90 h6.2 M804.8,493.90 h-6.2 M105.8,490.88 h6.2 M804.8,490.88 h-6.2 M105.8,488.23 h6.2 M804.8,488.23 h-6.2 M105.8,470.21 h6.2 M804.8,470.21 h-6.2 M105.8,461.06 h6.2 M804.8,461.06 h-6.2 M105.8,454.57 h6.2 M804.8,454.57 h-6.2 M105.8,449.54 h6.2 M804.8,449.54 h-6.2 M105.8,445.43 h6.2 M804.8,445.43 h-6.2 M105.8,441.95 h6.2 M804.8,441.95 h-6.2 M105.8,438.93 h6.2 M804.8,438.93 h-6.2 M105.8,436.28 h6.2 M804.8,436.28 h-6.2 M105.8,418.26 h6.2 M804.8,418.26 h-6.2 M105.8,409.11 h6.2 M804.8,409.11 h-6.2 M105.8,402.62 h6.2 M804.8,402.62 h-6.2 M105.8,397.59 h6.2 M804.8,397.59 h-6.2 M105.8,393.48 h6.2 M804.8,393.48 h-6.2 M105.8,390.00 h6.2 M804.8,390.00 h-6.2 M105.8,386.98 h6.2 M804.8,386.98 h-6.2 M105.8,384.33 h6.2 M804.8,384.33 h-6.2 M105.8,366.31 h6.2 M804.8,366.31 h-6.2 M105.8,357.16 h6.2 M804.8,357.16 h-6.2 M105.8,350.67 h6.2 M804.8,350.67 h-6.2 M105.8,345.64 h6.2 M804.8,345.64 h-6.2 M105.8,341.53 h6.2 M804.8,341.53 h-6.2 M105.8,338.05 h6.2 M804.8,338.05 h-6.2 M105.8,335.03 h6.2 M804.8,335.03 h-6.2 M105.8,332.38 h6.2 M804.8,332.38 h-6.2 M105.8,314.36 h6.2 M804.8,314.36 h-6.2 M105.8,305.21 h6.2 M804.8,305.21 h-6.2 M105.8,298.72 h6.2 M804.8,298.72 h-6.2 M105.8,293.69 h6.2 M804.8,293.69 h-6.2 M105.8,289.58 h6.2 M804.8,289.58 h-6.2 M105.8,286.10 h6.2 M804.8,286.10 h-6.2 M105.8,283.08 h6.2 M804.8,283.08 h-6.2 M105.8,280.43 h6.2 M804.8,280.43 h-6.2 M105.8,262.41 h6.2 M804.8,262.41 h-6.2 M105.8,253.26 h6.2 M804.8,253.26 h-6.2 M105.8,246.77 h6.2 M804.8,246.77 h-6.2 M105.8,241.74 h6.2 M804.8,241.74 h-6.2 M105.8,237.63 h6.2 M804.8,237.63 h-6.2 M105.8,234.15 h6.2 M804.8,234.15 h-6.2 M105.8,231.13 h6.2 M804.8,231.13 h-6.2 M105.8,228.48 h6.2 M804.8,228.48 h-6.2 M105.8,210.46 h6.2 M804.8,210.46 h-6.2 M105.8,201.31 h6.2 M804.8,201.31 h-6.2 M105.8,194.82 h6.2 M804.8,194.82 h-6.2 M105.8,189.79 h6.2 M804.8,189.79 h-6.2 M105.8,185.68 h6.2 M804.8,185.68 h-6.2 M105.8,182.20 h6.2 M804.8,182.20 h-6.2 M105.8,179.18 h6.2 M804.8,179.18 h-6.2 M105.8,176.53 h6.2 M804.8,176.53 h-6.2 M105.8,158.51 h6.2 M804.8,158.51 h-6.2 M105.8,149.36 h6.2 M804.8,149.36 h-6.2 M105.8,142.87 h6.2 M804.8,142.87 h-6.2 M105.8,137.84 h6.2 M804.8,137.84 h-6.2 M105.8,133.73 h6.2 M804.8,133.73 h-6.2 M105.8,130.25 h6.2 M804.8,130.25 h-6.2 M105.8,127.23 h6.2 M804.8,127.23 h-6.2 M105.8,124.58 h6.2 M804.8,124.58 h-6.2 M105.8,106.56 h6.2 M804.8,106.56 h-6.2 M105.8,97.41 h6.2 M804.8,97.41 h-6.2 M105.8,90.92 h6.2 M804.8,90.92 h-6.2 M105.8,85.89 h6.2 M804.8,85.89 h-6.2 M105.8,81.78 h6.2 M804.8,81.78 h-6.2 M105.8,78.30 h6.2 M804.8,78.30 h-6.2 M105.8,75.28 h6.2 M804.8,75.28 h-6.2 M105.8,72.63 h6.2 M804.8,72.63 h-6.2 M105.8,54.61 h6.2 M804.8,54.61 h-6.2 M105.8,45.46 h6.2 M804.8,45.46 h-6.2 M105.8,38.97 h6.2 M804.8,38.97 h-6.2 M105.8,33.94 h6.2 M804.8,33.94 h-6.2 M105.8,29.83 h6.2 M804.8,29.83 h-6.2 M105.8,26.35 h6.2 M804.8,26.35 h-6.2 M105.8,23.33 h6.2 M804.8,23.33 h-6.2 M105.8,20.68 h6.2 M804.8,20.68 h-6.2" stroke-width="1.9"/>
</g>
<g fill="#000">
<text x="114.22" y="574.70" font-size="33.2">85</text>
<text x="248.64" y="574.70" font-size="33.2">90</text>
<text x="383.07" y="574.70" font-size="33.2">95</text>
<path d="M763 0H583V1147Q518 1085 412.5 1023Q307 961 223 930V1104Q374 1175 487 1276Q600 1377 647 1472H763Z" transform="translate(508.26,574.70) scale(0.01581,-0.01581)"/>
<text x="526.72" y="574.70" font-size="33.2">00</text>
<path d="M763 0H583V1147Q518 1085 412.5 1023Q307 961 223 930V1104Q374 1175 487 1276Q600 1377 647 1472H763Z" transform="translate(642.68,574.70) scale(0.01581,-0.01581)"/>
<text x="661.14" y="574.70" font-size="33.2">05</text>
<path d="M763 0H583V1147Q518 1085 412.5 1023Q307 961 223 930V1104Q374 1175 487 1276Q600 1377 647 1472H763Z" transform="translate(777.10,574.70) scale(0.01581,-0.01581)"/>
<path d="M763 0H583V1147Q518 1085 412.5 1023Q307 961 223 930V1104Q374 1175 487 1276Q600 1377 647 1472H763Z" transform="translate(795.57,574.70) scale(0.01581,-0.01581)"/>
<text x="814.03" y="574.70" font-size="33.2">0</text>
<path d="M763 0H583V1147Q518 1085 412.5 1023Q307 961 223 930V1104Q374 1175 487 1276Q600 1377 647 1472H763Z" transform="translate(41.98,550.10) scale(0.01552,-0.01552)"/>
<text x="60.11" y="550.10" font-size="32.6">0</text>
<text x="78.24" y="532.50" font-size="18.4">-6</text>
<path d="M763 0H583V1147Q518 1085 412.5 1023Q307 961 223 930V1104Q374 1175 487 1276Q600 1377 647 1472H763Z" transform="translate(41.98,498.15) scale(0.01552,-0.01552)"/>
<text x="60.11" y="498.15" font-size="32.6">0</text>
<text x="78.24" y="480.55" font-size="18.4">-5</text>
<path d="M763 0H583V1147Q518 1085 412.5 1023Q307 961 223 930V1104Q374 1175 487 1276Q600 1377 647 1472H763Z" transform="translate(41.98,446.20) scale(0.01552,-0.01552)"/>
<text x="60.11" y="446.20" font-size="32.6">0</text>
<text x="78.24" y="428.60" font-size="18.4">-4</text>
<path d="M763 0H583V1147Q518 1085 412.5 1023Q307 961 223 930V1104Q374 1175 487 1276Q600 1377 647 1472H763Z" transform="translate(41.98,394.25) scale(0.01552,-0.01552)"/>
<text x="60.11" y="394.25" font-size="32.6">0</text>
<text x="78.24" y="376.65" font-size="18.4">-3</text>
<path d="M763 0H583V1147Q518 1085 412.5 1023Q307 961 223 930V1104Q374 1175 487 1276Q600 1377 647 1472H763Z" transform="translate(41.98,342.30) scale(0.01552,-0.01552)"/>
<text x="60.11" y="342.30" font-size="32.6">0</text>
<text x="78.24" y="324.70" font-size="18.4">-2</text>
<path d="M763 0H583V1147Q518 1085 412.5 1023Q307 961 223 930V1104Q374 1175 487 1276Q600 1377 647 1472H763Z" transform="translate(41.98,290.35) scale(0.01552,-0.01552)"/>
<text x="60.11" y="290.35" font-size="32.6">0</text>
<text x="78.24" y="272.75" font-size="18.4">-</text>
<path d="M763 0H583V1147Q518 1085 412.5 1023Q307 961 223 930V1104Q374 1175 487 1276Q600 1377 647 1472H763Z" transform="translate(84.37,272.75) scale(0.00876,-0.00876)"/>
<path d="M763 0H583V1147Q518 1085 412.5 1023Q307 961 223 930V1104Q374 1175 487 1276Q600 1377 647 1472H763Z" transform="translate(48.11,238.40) scale(0.01552,-0.01552)"/>
<text x="66.24" y="238.40" font-size="32.6">0</text>
<text x="84.37" y="220.80" font-size="18.4">0</text>
<path d="M763 0H583V1147Q518 1085 412.5 1023Q307 961 223 930V1104Q374 1175 487 1276Q600 1377 647 1472H763Z" transform="translate(48.11,186.45) scale(0.01552,-0.01552)"/>
<text x="66.24" y="186.45" font-size="32.6">0</text>
<path d="M763 0H583V1147Q518 1085 412.5 1023Q307 961 223 930V1104Q374 1175 487 1276Q600 1377 647 1472H763Z" transform="translate(84.37,168.85) scale(0.00876,-0.00876)"/>
<path d="M763 0H583V1147Q518 1085 412.5 1023Q307 961 223 930V1104Q374 1175 487 1276Q600 1377 647 1472H763Z" transform="translate(48.11,134.50) scale(0.01552,-0.01552)"/>
<text x="66.24" y="134.50" font-size="32.6">0</text>
<text x="84.37" y="116.90" font-size="18.4">2</text>
<path d="M763 0H583V1147Q518 1085 412.5 1023Q307 961 223 930V1104Q374 1175 487 1276Q600 1377 647 1472H763Z" transform="translate(48.11,82.55) scale(0.01552,-0.01552)"/>
<text x="66.24" y="82.55" font-size="32.6">0</text>
<text x="84.37" y="64.95" font-size="18.4">3</text>
<path d="M763 0H583V1147Q518 1085 412.5 1023Q307 961 223 930V1104Q374 1175 487 1276Q600 1377 647 1472H763Z" transform="translate(48.11,30.60) scale(0.01552,-0.01552)"/>
<text x="66.24" y="30.60" font-size="32.6">0</text>
<text x="84.37" y="13.00" font-size="18.4">4</text>
</g>
<text x="383.6" y="625.3" font-size="32" fill="#000"><tspan font-style="italic">E</tspan><tspan font-size="18.4" dy="12.3">CM</tspan><tspan dy="-12.3" font-size="32"> (MeV)</tspan></text>
<text transform="translate(23.5,476.6) rotate(-90)" font-size="31.57" fill="#000">Fusion Cross Section</text>
<text transform="translate(23.5,166.3) rotate(-90) scale(1.3,1)" font-size="25" font-style="italic" fill="#000">σ</text>
<text transform="translate(23.5,141.2) rotate(-90)" font-size="32" fill="#000">(mb)</text>
<text x="136.8" y="96.3" font-size="40.4" fill="#000"><tspan font-size="24.2" dy="-21.8">64</tspan><tspan dy="21.8" font-size="40.4">Ni+</tspan><tspan font-size="24.2" dy="-21.8">64</tspan><tspan dy="21.8" font-size="40.4">Ni</tspan></text>
<g fill="none" stroke-linecap="round">
<path d="M412.0,336.0 H471.9" stroke="#0000ff" stroke-width="4.4"/>
<path d="M412.0,369.1 H466.0" stroke="#0000ff" stroke-width="4.1" stroke-dasharray="0.01 6.71"/>
<path d="M412.0,402.2 H471.7" stroke="#00ffff" stroke-width="4.2" stroke-dasharray="5.0 9.65"/>
<path d="M412.0,435.2 H468.7" stroke="#00ff00" stroke-width="4.2" stroke-dasharray="16.3 10.9 2.3 10.9"/>
<path d="M412.0,468.0 H471.7" stroke="#00ff00" stroke-width="4.2" stroke-dasharray="12.0 10.8 2.2 10.6 2.3 10.8"/>
</g>
<circle cx="441.9" cy="501.2" r="6.0" fill="#ff0000"/>
<g fill="#000" font-size="27.05">
<text x="487.3" y="345.6">Two-Step Model (<tspan font-style="italic">k</tspan> = 46)</text>
<text x="487.3" y="378.5">Two-Step Model (<tspan font-style="italic">k</tspan> = 0)</text>
<text x="487.3" y="411.4">Capture Cross Section</text>
<text x="487.3" y="444.3">CC (Woods-Saxon)</text>
<text x="487.3" y="477.2">No Coupling</text>
<text x="487.3" y="510.1">Experiment</text>
</g>
</svg>
</body>
</html>
